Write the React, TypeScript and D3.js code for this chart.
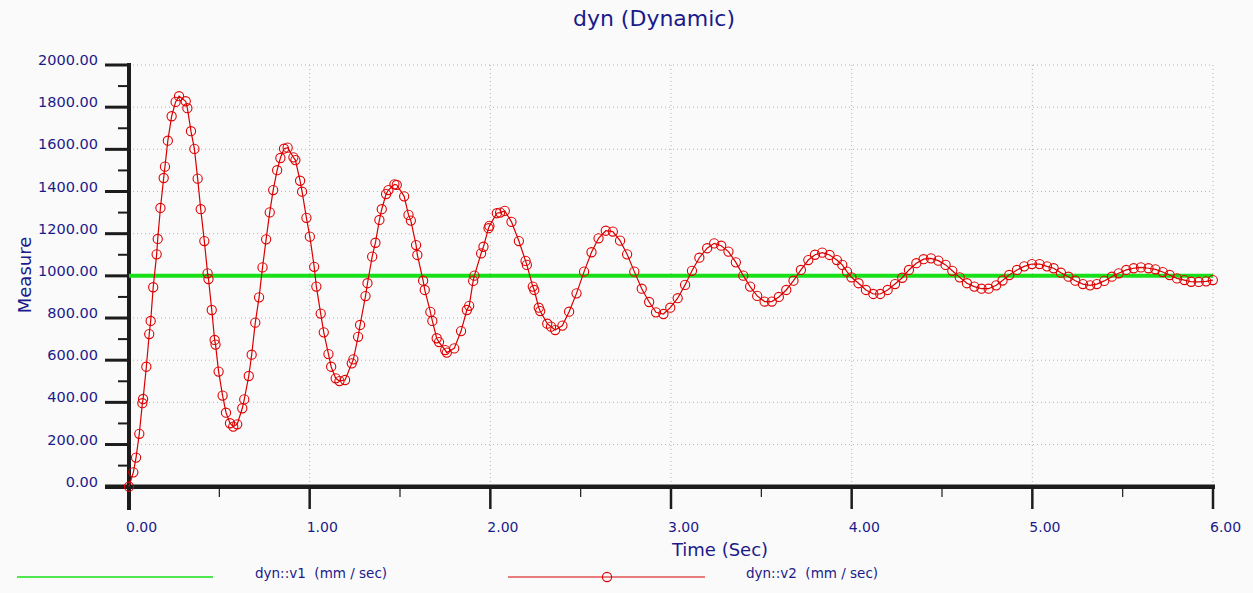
import React from "react";
import * as d3 from "d3";

const v1Time = [0, 6];
const v1Value = [1000, 1000];

const v2Time = [
  0.0, 0.024, 0.039, 0.057, 0.074, 0.078, 0.096, 0.112, 0.12, 0.134, 0.153, 0.159, 0.174, 0.192, 0.199,
  0.215, 0.236, 0.258, 0.277, 0.314, 0.323, 0.343, 0.362, 0.38, 0.397, 0.417, 0.435, 0.44, 0.458, 0.474,
  0.479, 0.496, 0.518, 0.537, 0.559, 0.577, 0.599, 0.627, 0.638, 0.663, 0.679, 0.699, 0.72, 0.739, 0.759,
  0.779, 0.798, 0.82, 0.838, 0.858, 0.878, 0.91, 0.921, 0.947, 0.958, 0.982, 1.001, 1.025, 1.037, 1.061,
  1.078, 1.104, 1.119, 1.144, 1.165, 1.196, 1.233, 1.242, 1.268, 1.279, 1.309, 1.32, 1.346, 1.364, 1.386,
  1.399, 1.423, 1.436, 1.469, 1.482, 1.523, 1.547, 1.56, 1.589, 1.596, 1.628, 1.637, 1.668, 1.679, 1.703,
  1.716, 1.75, 1.759, 1.8, 1.838, 1.87, 1.883, 1.905, 1.912, 1.949, 1.962, 1.99, 1.995, 2.036, 2.054,
  2.08, 2.117, 2.158, 2.195, 2.202, 2.235, 2.243, 2.268, 2.276, 2.315, 2.336, 2.359, 2.399, 2.436, 2.477,
  2.519, 2.56, 2.599, 2.639, 2.678, 2.718, 2.757, 2.797, 2.838, 2.879, 2.917, 2.958, 2.996, 3.037, 3.078,
  3.116, 3.157, 3.2, 3.239, 3.278, 3.318, 3.359, 3.4, 3.438, 3.477, 3.518, 3.558, 3.597, 3.638, 3.678,
  3.719, 3.76, 3.797, 3.837, 3.878, 3.918, 3.948, 3.974, 3.999, 4.038, 4.079, 4.12, 4.158, 4.199, 4.24,
  4.28, 4.317, 4.358, 4.398, 4.439, 4.48, 4.52, 4.557, 4.598, 4.638, 4.679, 4.719, 4.758, 4.8, 4.835,
  4.872, 4.915, 4.955, 4.998, 5.04, 5.081, 5.118, 5.158, 5.2, 5.238, 5.28, 5.32, 5.357, 5.398, 5.44,
  5.478, 5.52, 5.561, 5.601, 5.643, 5.681, 5.722, 5.76, 5.801, 5.842, 5.879, 5.921, 5.962, 5.999,
];

const v2Value = [
  0, 68, 138, 251, 396, 416, 569, 724, 786, 946, 1102, 1175, 1322, 1464, 1518,
  1641, 1757, 1825, 1852, 1828, 1795, 1686, 1602, 1461, 1316, 1165, 1012, 985, 838, 696,
  674, 546, 432, 351, 301, 285, 296, 372, 414, 525, 626, 778, 898, 1040, 1173,
  1301, 1407, 1501, 1559, 1603, 1608, 1562, 1549, 1451, 1399, 1275, 1186, 1043, 949, 821,
  732, 629, 569, 514, 501, 506, 585, 604, 711, 767, 904, 965, 1091, 1157, 1265,
  1316, 1388, 1407, 1434, 1431, 1377, 1289, 1262, 1146, 1099, 977, 933, 829, 786, 704,
  686, 648, 636, 656, 738, 838, 858, 976, 1001, 1107, 1138, 1226, 1237, 1297, 1300,
  1308, 1256, 1165, 1071, 1052, 949, 933, 849, 833, 773, 759, 743, 764, 830, 917,
  1020, 1112, 1178, 1214, 1210, 1167, 1102, 1020, 939, 876, 827, 819, 849, 894, 957,
  1024, 1086, 1131, 1154, 1143, 1115, 1064, 1001, 949, 905, 878, 878, 900, 933, 977,
  1028, 1075, 1100, 1110, 1099, 1075, 1052, 1020, 993, 965, 933, 914, 914, 933, 961,
  991, 1028, 1060, 1079, 1083, 1072, 1052, 1024, 993, 965, 949, 939, 939, 955, 978,
  1004, 1028, 1045, 1056, 1056, 1045, 1036, 1015, 996, 977, 961, 955, 961, 976, 996,
  1012, 1028, 1036, 1040, 1036, 1031, 1018, 1004, 988, 980, 972, 971, 974, 980,
];

const yMajorTicks = [0, 200, 400, 600, 800, 1000, 1200, 1400, 1600, 1800, 2000];
const yMinorTicks = [100, 300, 500, 700, 900, 1100, 1300, 1500, 1700, 1900];
const xMajorTicks = [0, 1, 2, 3, 4, 5, 6];
const xMinorTicks = [0.5, 1.5, 2.5, 3.5, 4.5, 5.5];

const titleText = "dyn (Dynamic)";
const xTitle = "Time (Sec)";
const yTitle = "Measure";
const legend1 = "dyn::v1  (mm / sec)";
const legend2 = "dyn::v2  (mm / sec)";

const W = 1253;
const H = 593;
const NAVY = "#1a1a8a";
const AXIS = "#1c1c1c";
const FONT = "DejaVu Sans, Verdana, sans-serif";

export default function App() {
  const x = d3.scaleLinear().domain([0, 6]).range([129, 1213]);
  const y = d3.scaleLinear().domain([0, 2000]).range([486.7, 65]);

  const v1 = v1Time.map((t, i) => [t, v1Value[i]] as [number, number]);
  const v2 = v2Time.map((t, i) => [t, v2Value[i]] as [number, number]);

  const line = d3
    .line<[number, number]>()
    .x((d) => x(d[0]))
    .y((d) => y(d[1]));

  return (
    <svg
      width={W}
      height={H}
      style={{ position: "absolute", left: 0, top: 0, background: "#fafafa" }}
      fontFamily={FONT}
    >
      <rect x={0} y={0} width={W} height={H} fill="#fafafa" />
      {yMajorTicks
        .filter((t) => t > 0)
        .map((t) => (
          <line
            key={"gy" + t}
            x1={x(0)}
            x2={x(6)}
            y1={y(t)}
            y2={y(t)}
            stroke="#b4b4b4"
            strokeWidth={1}
            strokeDasharray="1 3"
          />
        ))}
      {xMajorTicks
        .filter((t) => t > 0)
        .map((t) => (
          <line
            key={"gx" + t}
            x1={x(t)}
            x2={x(t)}
            y1={y(2000)}
            y2={y(0)}
            stroke="#b4b4b4"
            strokeWidth={1}
            strokeDasharray="1 3"
          />
        ))}

      <text x={654} y={26} textAnchor="middle" fontSize={22} fill={NAVY}>
        {titleText}
      </text>

      <line x1={129} x2={129} y1={63} y2={510} stroke={AXIS} strokeWidth={4} />
      {yMajorTicks.map((t) => (
        <g key={"yt" + t}>
          <line x1={105} x2={129} y1={y(t)} y2={y(t)} stroke={AXIS} strokeWidth={3} />
          <text x={98} y={y(t)} textAnchor="end" fontSize={14.5} fill={NAVY}>
            {t.toFixed(2)}
          </text>
        </g>
      ))}
      {yMinorTicks.map((t) => (
        <line key={"ym" + t} x1={118} x2={129} y1={y(t)} y2={y(t)} stroke={AXIS} strokeWidth={2} />
      ))}

      <line x1={105} x2={1215} y1={486.7} y2={486.7} stroke={AXIS} strokeWidth={4.5} />
      {xMajorTicks.map((t) => (
        <g key={"xt" + t}>
          <line x1={x(t)} x2={x(t)} y1={487} y2={509} stroke={AXIS} strokeWidth={2.5} />
          <text x={x(t) - 3} y={532} textAnchor="start" fontSize={14} fill={NAVY}>
            {t.toFixed(2)}
          </text>
        </g>
      ))}
      {xMinorTicks.map((t) => (
        <line key={"xm" + t} x1={x(t)} x2={x(t)} y1={487} y2={497} stroke={AXIS} strokeWidth={1.2} />
      ))}

      <text x={720} y={556} textAnchor="middle" fontSize={18} fill={NAVY}>
        {xTitle}
      </text>
      <text transform={`translate(31,275) rotate(-90)`} textAnchor="middle" fontSize={18} fill={NAVY}>
        {yTitle}
      </text>

      <path d={line(v1) || ""} fill="none" stroke="#18e018" strokeWidth={4} />

      <path d={line(v2) || ""} fill="none" stroke="#d80000" strokeWidth={1.2} />
      {v2.map((d, i) => (
        <circle
          key={"m" + i}
          cx={x(d[0])}
          cy={y(d[1])}
          r={4.6}
          fill="none"
          stroke="#e00000"
          strokeWidth={1.1}
        />
      ))}

      <line x1={17} x2={213} y1={577} y2={577} stroke="#18e018" strokeWidth={1.5} />
      <text x={255} y={578} fontSize={13.5} fill={NAVY} style={{ whiteSpace: "pre" }}>
        {legend1}
      </text>
      <line x1={508} x2={705} y1={577} y2={577} stroke="#d80000" strokeWidth={1.2} />
      <circle cx={607} cy={577} r={4.6} fill="none" stroke="#e00000" strokeWidth={1.1} />
      <text x={746} y={578} fontSize={13.5} fill={NAVY} style={{ whiteSpace: "pre" }}>
        {legend2}
      </text>
    </svg>
  );
}
